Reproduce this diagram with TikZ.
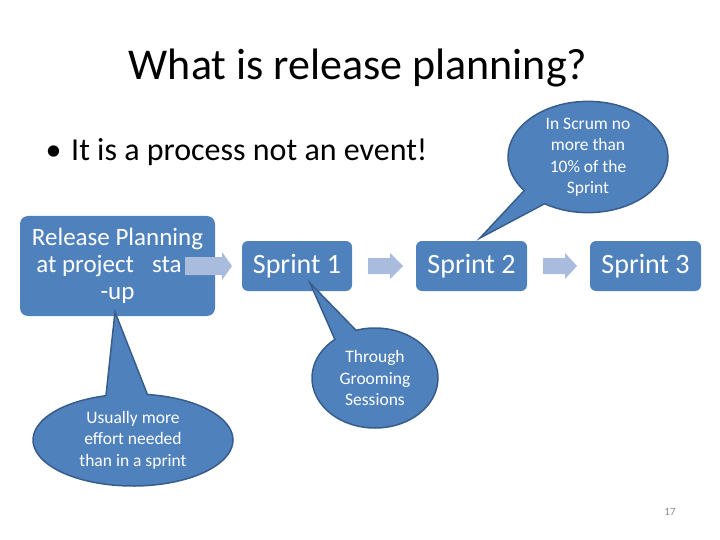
\documentclass[tikz,border=0pt]{standalone}
\usepackage{fontspec}
\setmainfont{Carlito}
\usetikzlibrary{shapes.callouts,shapes.geometric}
\definecolor{boxblue}{HTML}{4F81BD}
\definecolor{boxedge}{HTML}{385D8A}
\definecolor{arrowblue}{HTML}{A9BCDD}
\definecolor{numgray}{HTML}{8C8C8C}
\begin{document}
\begin{tikzpicture}[x=1pt,y=-1pt,
  stepbox/.style={fill=boxblue, rounded corners=6pt, text=white, align=center, inner sep=0pt},
  bubble/.style={ellipse callout, fill=boxblue, draw=boxedge, line width=1.5pt, text=white,
    align=center, inner sep=0pt, font=\fontsize{17.5}{21.5}\selectfont},
  blockarrow/.style={fill=arrowblue}]
\useasboundingbox (0,0) rectangle (720,540);
\node[anchor=base] (title) at (358,80) {\fontsize{44}{52}\selectfont What is release planning?};
\node[anchor=base west] (dot) at (42,161) {\fontsize{32}{38}\selectfont •};
\node[anchor=base west, inner sep=0pt] (bullet) at (71,161) {\fontsize{32}{38}\selectfont It is a process not an event!};

\node[stepbox, rounded corners=8pt, minimum width=195pt, minimum height=100pt,
  font=\fontsize{25}{27}\selectfont] (rel) at (117.5,266)
  {Release Planning\\at project\hspace{18pt}sta\phantom{rt}\\-up};
\node[stepbox, minimum width=110pt, minimum height=50pt, font=\fontsize{28}{30}\selectfont] (s1) at (297,266) {Sprint 1};
\node[stepbox, minimum width=111pt, minimum height=50pt, font=\fontsize{28}{30}\selectfont] (s2) at (471.5,266) {Sprint 2};
\node[stepbox, minimum width=111pt, minimum height=50pt, font=\fontsize{28}{30}\selectfont] (s3) at (645.5,266) {Sprint 3};

\fill[blockarrow] (185,257) -- (222,257) -- (222,252) -- (232,266) -- (222,280) -- (222,275) -- (185,275) -- cycle;
\fill[blockarrow] (368,258) -- (390,258) -- (390,253) -- (403,266) -- (390,279) -- (390,274) -- (368,274) -- cycle;
\fill[blockarrow] (543,258) -- (565,258) -- (565,253) -- (577,266) -- (565,279) -- (565,274) -- (543,274) -- cycle;

\node[bubble, minimum width=160pt, minimum height=105pt, callout absolute pointer={(480,238)},
  callout pointer arc=20] (c1) at (588,157) {In Scrum no\\more than\\10\% of the\\Sprint};
\node[bubble, minimum width=200pt, minimum height=92pt, callout absolute pointer={(115,312)},
  callout pointer arc=24] (c2) at (133,440) {Usually more\\effort needed\\than in a sprint};
\node[bubble, minimum width=126pt, minimum height=100pt, callout absolute pointer={(310,283)},
  callout pointer arc=22] (c3) at (375,378) {Through\\Grooming\\Sessions};

\node[text=numgray, font=\fontsize{11}{13}\selectfont] (num) at (670,512) {17};
\end{tikzpicture}
\end{document}
